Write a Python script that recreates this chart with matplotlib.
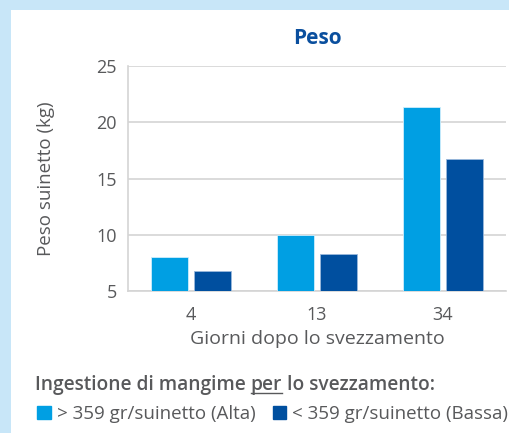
import matplotlib.pyplot as plt
import numpy as np
from matplotlib.patches import Rectangle, Patch
from matplotlib.lines import Line2D

plt.rcParams['font.family'] = 'Open Sans'

giorni = ['4', '13', '34']
alta = [8.0, 10.0, 21.4]
bassa = [6.8, 8.3, 16.7]
nomi = ['> 359 gr/suinetto (Alta)', '< 359 gr/suinetto (Bassa)']
col_alta = '#009fe3'
col_bassa = '#004f9f'
grigio = '#58595b'

fig = plt.figure(figsize=(5.09, 4.33), dpi=100)
fig.patch.set_facecolor('#c8e6f8')
# white panel (pixel coords)
W, H = 509, 433
fig.patches.append(Rectangle((11 / W, 0), 1, (H - 10) / H, transform=fig.transFigure,
                             facecolor='white', edgecolor='none', zorder=-10))

ax = fig.add_axes([128 / W, 142 / H, 378 / W, 225 / H])
ax.set_facecolor('white')
x = np.arange(len(giorni))
w = 0.30
ax.bar(x - 0.17, alta, w, color=col_alta, edgecolor='#cfeefc', linewidth=0.6, zorder=3)
ax.bar(x + 0.17, bassa, w, color=col_bassa, edgecolor='#9ab8dc', linewidth=0.6, zorder=3)

ax.set_ylim(5, 25)
ax.set_xlim(-0.5, 2.5)
ax.set_yticks([5, 10, 15, 20, 25])
ax.set_xticks(x)
ax.set_xticklabels(giorni)
ax.grid(axis='y', color='#d4d4d4', linewidth=1.2, zorder=0)
for s in ['top', 'right']:
    ax.spines[s].set_visible(False)
for s in ['left', 'bottom']:
    ax.spines[s].set_color('#d4d4d4')
    ax.spines[s].set_linewidth(1.2)
ax.tick_params(axis='y', length=0, labelsize=13, colors=grigio, pad=8)
ax.tick_params(axis='x', length=0, labelsize=13, colors=grigio, pad=11)
ax.set_xlabel('Giorni dopo lo svezzamento', fontsize=14, color=grigio, labelpad=4)
ax.set_ylabel('Peso suinetto (kg)', fontsize=13.5, color=grigio, labelpad=30)
ax.set_title('Peso', fontsize=15, fontweight='bold', color='#0a4f9e', pad=16)

# heading below chart, with "per" underlined
y_head = 1 - 390 / H
fs = 13.8
parti = ['Ingestione di mangime ', 'per', ' lo svezzamento:']
fig.canvas.draw()
r = fig.canvas.get_renderer()
xpos = 35
testi = []
for p in parti:
    t = fig.text(xpos / W, y_head, p, fontsize=fs, fontweight='semibold', color=grigio,
                 va='baseline')
    testi.append(t)
    xpos = t.get_window_extent(r).x1
bb = testi[1].get_window_extent(r)
uy = (y_head * H) - 3
fig.lines.append(Line2D([bb.x0 / W, bb.x1 / W], [uy / H, uy / H], transform=fig.transFigure,
                        color=grigio, linewidth=1))

handles = [Patch(color=col_alta), Patch(color=col_bassa)]
fig.legend(handles, nomi, loc='center left', bbox_to_anchor=(28 / W, 1 - 414 / H), ncol=2,
           frameon=False, fontsize=13.5, handlelength=0.7, handleheight=0.7,
           handletextpad=0.35, columnspacing=0.9, labelcolor=grigio, borderpad=0)

fig.savefig('out.png', dpi=100, facecolor=fig.get_facecolor())
